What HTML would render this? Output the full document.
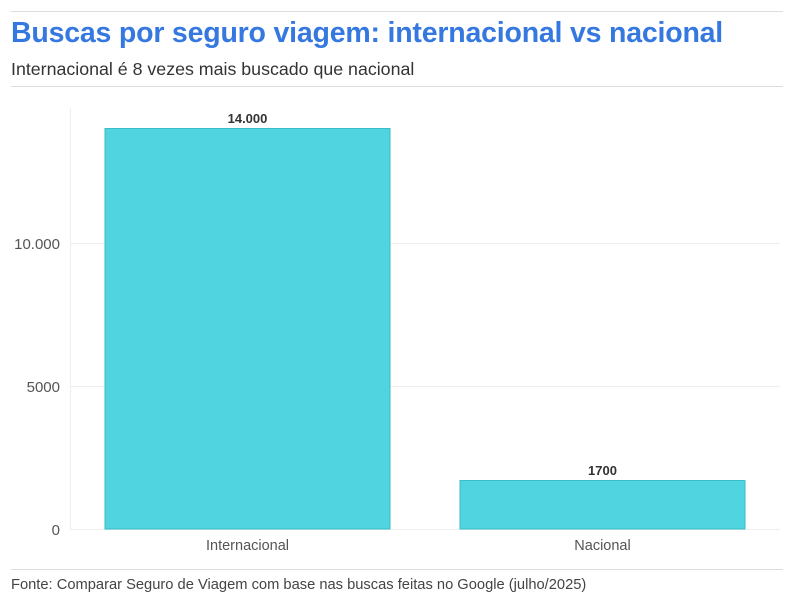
<!DOCTYPE html>
<html><head><meta charset="utf-8"><style>
body{margin:0;width:794px;height:606px;background:#fff;font-family:"Liberation Sans",sans-serif;position:relative;overflow:hidden}
.a{position:absolute;white-space:nowrap}
</style></head><body>
<div class="a" style="left:11px;top:11px;width:772px;height:1px;background:#ddd"></div>
<div class="a" style="left:11px;top:17px;font-size:28.5px;font-weight:bold;color:#3478e0;letter-spacing:-0.2px">Buscas por seguro viagem: internacional vs nacional</div>
<div class="a" style="left:11px;top:59px;font-size:17.8px;color:#333">Internacional é 8 vezes mais buscado que nacional</div>
<div class="a" style="left:11px;top:86px;width:772px;height:1px;background:#ddd"></div>
<svg class="a" style="left:0;top:0" width="794" height="606">
<g stroke="#eee" stroke-width="1">
<line x1="70" y1="243.5" x2="780" y2="243.5"/>
<line x1="70" y1="386.5" x2="780" y2="386.5"/>
<line x1="70" y1="529.5" x2="780" y2="529.5"/>
<line x1="70.5" y1="108" x2="70.5" y2="529"/>
</g>
<g font-family="Liberation Sans, sans-serif" font-size="15" fill="#555" text-anchor="end">
<text x="60" y="249">10.000</text>
<text x="60" y="392">5000</text>
<text x="60" y="535">0</text>
</g>
<rect x="105" y="128.5" width="285" height="400.5" fill="#4fd4e0" stroke="#3bbccb"/>
<rect x="460" y="480.5" width="285" height="48.5" fill="#4fd4e0" stroke="#3bbccb"/>
<g font-family="Liberation Sans, sans-serif" font-size="13" fill="#333" font-weight="bold" text-anchor="middle">
<text x="247.5" y="123">14.000</text>
<text x="602.5" y="475">1700</text>
</g>
<g font-family="Liberation Sans, sans-serif" font-size="14.5" fill="#555" text-anchor="middle">
<text x="247.5" y="550">Internacional</text>
<text x="602.5" y="550">Nacional</text>
</g>
</svg>
<div class="a" style="left:11px;top:569px;width:772px;height:1px;background:#ddd"></div>
<div class="a" style="left:11px;top:577px;font-size:14.7px;color:#444">Fonte: Comparar Seguro de Viagem com base nas buscas feitas no Google (julho/2025)</div>
</body></html>
